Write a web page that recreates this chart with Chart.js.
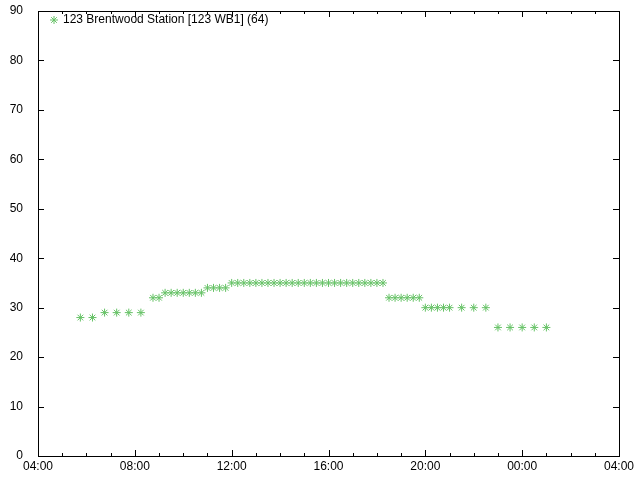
<!DOCTYPE html>
<html>
<head>
<meta charset="utf-8">
<script src="https://cdn.jsdelivr.net/npm/chart.js@4/dist/chart.umd.min.js"></script>
<style>
    html, body { margin: 0; padding: 0; background: #fff; }
    #wrap { width: 640px; height: 480px; }
</style>
</head>
<body>
<div id="wrap"><canvas id="stationChart" width="640" height="480"></canvas></div>
<script>
// ===== DATA =====
const seriesLabel = '123 Brentwood Station [123 WB1] (64)';

const readingTimes = [
    '05:45', '06:15', '06:45', '07:15', '07:45', '08:15', '08:45', '09:00',
    '09:15', '09:30', '09:45', '10:00', '10:15', '10:30', '10:45',
    '11:00', '11:15', '11:30', '11:45',
    '12:00', '12:15', '12:30', '12:45', '13:00', '13:15', '13:30', '13:45',
    '14:00', '14:15', '14:30', '14:45', '15:00', '15:15', '15:30', '15:45',
    '16:00', '16:15', '16:30', '16:45', '17:00', '17:15', '17:30', '17:45',
    '18:00', '18:15',
    '18:30', '18:45', '19:00', '19:15', '19:30', '19:45',
    '20:00', '20:15', '20:30', '20:45', '21:00', '21:30', '22:00', '22:30',
    '23:00', '23:30', '00:00', '00:30', '01:00'
];

const readingValues = [
    28, 28, 29, 29, 29, 29, 32, 32,
    33, 33, 33, 33, 33, 33, 33,
    34, 34, 34, 34,
    35, 35, 35, 35, 35, 35, 35, 35,
    35, 35, 35, 35, 35, 35, 35, 35,
    35, 35, 35, 35, 35, 35, 35, 35,
    35, 35,
    32, 32, 32, 32, 32, 32,
    30, 30, 30, 30, 30, 30, 30, 30,
    26, 26, 26, 26, 26
];

const xTickLabels = ['04:00', '08:00', '12:00', '16:00', '20:00', '00:00', '04:00'];
const yTicks = [0, 10, 20, 30, 40, 50, 60, 70, 80, 90];

// hours after the 04:00 start of the window
function toOffset(t) {
    const [h, m] = t.split(':').map(Number);
    let v = h + m / 60 - 4;
    if (v < 0) v += 24;
    return v;
}

const points = readingTimes.map((t, i) => ({ x: toOffset(t), y: readingValues[i] }));

const MARK_COLOR = '#66c266';
const FONT = 'Liberation Sans, Arial, sans-serif';

// gnuplot style frame: box, inward ticks on all sides, inner key
const framePlugin = {
    id: 'frame',
    afterDraw(chart) {
        const ctx = chart.ctx;
        const a = chart.chartArea;
        const xs = chart.scales.x;
        const ys = chart.scales.y;
        ctx.save();
        ctx.strokeStyle = '#000';
        ctx.lineWidth = 1;
        ctx.strokeRect(Math.round(a.left) + 0.5, Math.round(a.top) + 0.5,
            Math.round(a.right - a.left), Math.round(a.bottom - a.top));

        ctx.beginPath();
        for (let h = 0; h <= 24; h++) {
            const px = Math.round(xs.getPixelForValue(h)) + 0.5;
            const len = h % 4 === 0 ? 6 : 3;
            ctx.moveTo(px, a.bottom);
            ctx.lineTo(px, a.bottom - len);
            ctx.moveTo(px, a.top);
            ctx.lineTo(px, a.top + len);
        }
        yTicks.forEach(v => {
            const py = Math.round(ys.getPixelForValue(v)) + 0.5;
            ctx.moveTo(a.left, py);
            ctx.lineTo(a.left + 6, py);
            ctx.moveTo(a.right, py);
            ctx.lineTo(a.right - 6, py);
        });
        ctx.stroke();

        // key
        const kx = a.left + 16;
        const ky = a.top + 9;
        ctx.strokeStyle = MARK_COLOR;
        ctx.beginPath();
        for (let k = 0; k < 4; k++) {
            const ang = k * Math.PI / 4;
            ctx.moveTo(kx - Math.cos(ang) * 4, ky - Math.sin(ang) * 4);
            ctx.lineTo(kx + Math.cos(ang) * 4, ky + Math.sin(ang) * 4);
        }
        ctx.stroke();
        ctx.fillStyle = '#000';
        ctx.font = '12px ' + FONT;
        ctx.textBaseline = 'middle';
        ctx.textAlign = 'left';
        ctx.fillText(seriesLabel, kx + 9, ky);
        ctx.restore();
    }
};

const chart = new Chart(document.getElementById('stationChart'), {
    type: 'scatter',
    data: {
        datasets: [{
            label: seriesLabel,
            data: points,
            pointStyle: 'star',
            pointRadius: 4,
            pointHoverRadius: 4,
            borderColor: MARK_COLOR,
            backgroundColor: MARK_COLOR,
            borderWidth: 1
        }]
    },
    options: {
        responsive: false,
        animation: false,
        events: [],
        layout: {
            padding: { left: 0, right: 21, top: 11, bottom: 0 }
        },
        plugins: {
            legend: { display: false },
            tooltip: { enabled: false }
        },
        scales: {
            x: {
                type: 'linear',
                min: 0,
                max: 24,
                afterFit(scale) { scale.height = 24; },
                afterBuildTicks(scale) {
                    scale.ticks = xTickLabels.map((_, i) => ({ value: i * 4 }));
                },
                ticks: {
                    autoSkip: false,
                    maxRotation: 0,
                    padding: 3,
                    color: '#000',
                    font: { family: FONT, size: 12 },
                    callback: (v) => xTickLabels[Math.round(v / 4)]
                },
                grid: { display: false, drawTicks: false },
                border: { display: false }
            },
            y: {
                min: 0,
                max: 90,
                afterFit(scale) {
                    scale.width = 38;
                    scale.paddingTop = 0;
                    scale.paddingBottom = 0;
                },
                afterBuildTicks(scale) {
                    scale.ticks = yTicks.map(v => ({ value: v }));
                },
                ticks: {
                    padding: 7,
                    color: '#000',
                    font: { family: FONT, size: 12 }
                },
                grid: { display: false },
                border: { display: false }
            }
        }
    },
    plugins: [framePlugin]
});
</script>
</body>
</html>
